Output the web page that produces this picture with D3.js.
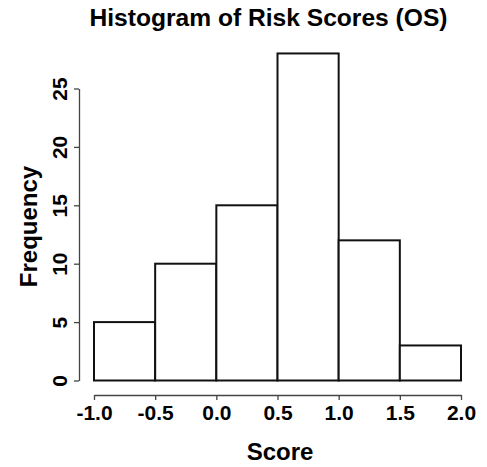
<!DOCTYPE html>
<html>
<head>
<meta charset="utf-8">
<script src="https://cdn.jsdelivr.net/npm/d3@7"></script>
<style>
  html, body { margin: 0; padding: 0; background: #fff; }
  svg { display: block; }
  text { font-family: "Liberation Sans", Arial, Helvetica, sans-serif; font-weight: bold; fill: #000; }
</style>
</head>
<body>
<svg id="chart" width="487" height="467"></svg>
<script>
// Histogram bins (left edges, width 0.5) and their counts
const binStarts = [-1.0, -0.5, 0.0, 0.5, 1.0, 1.5];
const binWidth = 0.5;
const counts = [5, 10, 15, 28, 12, 3];

// Axis ticks and labels
const xTicks = [-1.0, -0.5, 0.0, 0.5, 1.0, 1.5, 2.0];
const xTickLabels = ["-1.0", "-0.5", "0.0", "0.5", "1.0", "1.5", "2.0"];
const yTicks = [0, 5, 10, 15, 20, 25];
const yTickLabels = ["0", "5", "10", "15", "20", "25"];

const titleText = "Histogram of Risk Scores (OS)";
const xLabel = "Score";
const yLabel = "Frequency";

const svg = d3.select("#chart");

const x = d3.scaleLinear().domain([-1, 2]).range([94, 461]);
const y = d3.scaleLinear().domain([0, 25]).range([380.5, 88.5]);

// Bars
svg.append("g")
  .selectAll("rect")
  .data(binStarts.map((s, i) => ({ x0: s, x1: s + binWidth, n: counts[i] })))
  .join("rect")
  .attr("x", d => x(d.x0))
  .attr("y", d => y(d.n))
  .attr("width", d => x(d.x1) - x(d.x0))
  .attr("height", d => y(0) - y(d.n))
  .attr("fill", "#fff")
  .attr("stroke", "#111")
  .attr("stroke-width", 2);

// X axis, offset below the bars
const xAxis = d3.axisBottom(x)
  .tickValues(xTicks)
  .tickFormat((d, i) => xTickLabels[i])
  .tickSizeInner(5)
  .tickSizeOuter(0)
  .tickPadding(6);

const gx = svg.append("g")
  .attr("transform", "translate(0,395)")
  .call(xAxis);
gx.select(".domain").attr("stroke", "#444").attr("stroke-width", 1.3);
gx.selectAll(".tick line").attr("stroke", "#444").attr("stroke-width", 1.3);
gx.selectAll(".tick text")
  .attr("font-size", "21px")
  .attr("font-family", null)
  .attr("dy", "0.69em");

// Y axis, offset left of the bars, labels rotated
const yAxis = d3.axisLeft(y)
  .tickValues(yTicks)
  .tickFormat((d, i) => yTickLabels[i])
  .tickSizeInner(5)
  .tickSizeOuter(0);

const gy = svg.append("g")
  .attr("transform", "translate(79,0)")
  .call(yAxis);
gy.select(".domain").attr("stroke", "#444").attr("stroke-width", 1.3);
gy.selectAll(".tick line").attr("stroke", "#444").attr("stroke-width", 1.3);
gy.selectAll(".tick text")
  .attr("font-size", "21px")
  .attr("font-family", null)
  .attr("x", null)
  .attr("dy", null)
  .attr("text-anchor", "middle")
  .attr("transform", "translate(-12,0) rotate(-90)");

// Title
svg.append("text")
  .attr("x", 268.5)
  .attr("y", 26)
  .attr("text-anchor", "middle")
  .attr("font-size", "24.6px")
  .text(titleText);

// Axis titles
svg.append("text")
  .attr("x", 280)
  .attr("y", 460)
  .attr("text-anchor", "middle")
  .attr("font-size", "24px")
  .text(xLabel);

svg.append("text")
  .attr("transform", "translate(37,226.5) rotate(-90)")
  .attr("text-anchor", "middle")
  .attr("font-size", "24px")
  .text(yLabel);
</script>
</body>
</html>
